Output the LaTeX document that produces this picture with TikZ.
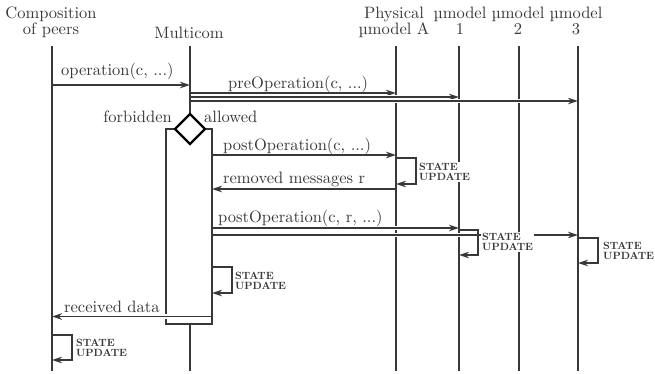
\documentclass[tikz,border=0pt]{standalone}
\usepackage{fontspec}
\setmainfont{lmroman10-regular.otf}[BoldFont=lmroman10-bold.otf]
\usetikzlibrary{arrows.meta}
\definecolor{ln}{HTML}{383838}
\begin{document}
\begin{tikzpicture}[x=1pt,y=-1pt,
  lbl/.style={text=ln, font=\fontsize{16.5}{16}\selectfont, inner sep=0pt},
  hdr/.style={lbl, align=center, anchor=north},
  su/.style={text=ln, font=\fontsize{10.5}{10}\selectfont\bfseries, align=left, inner sep=1pt, anchor=west, fill=white},
  life/.style={draw=ln, line width=1.4pt},
  tip/.style={-{Stealth[length=10pt,width=6.5pt,inset=3pt]}},
  msg/.style={draw=ln, line width=1.4pt, tip, preaction={draw=white, line width=4.6pt, -, shorten <=1.5pt, shorten >=1.5pt}},
  selfloop/.style={draw=ln, line width=1.4pt, tip},
  actbox/.style={draw=ln, line width=1.4pt, fill=white},
  choice/.style={draw=black, line width=2.4pt, fill=white, line join=miter}
]
\useasboundingbox (0,0) rectangle (655,374);

% headers
\node[hdr] (hC) at (51,6.5) {Composition\\of peers};
\node[lbl, anchor=base] (hM) at (189,38.5) {Multicom};
\node[hdr] (hP) at (394,6.5) {Physical\\µmodel A};
\node[hdr] (h1) at (460,6.5) {µmodel\\1};
\node[hdr] (h2) at (518,6.5) {µmodel\\2};
\node[hdr] (h3) at (576,6.5) {µmodel\\3};

% lifeline ends
\coordinate (Ct) at (52,46);  \coordinate (Cb) at (52,371);
\coordinate (Mt) at (190,46); \coordinate (Mb) at (190,371);
\coordinate (Pt) at (396,46); \coordinate (Pb) at (396,371);
\coordinate (At) at (459,46); \coordinate (Ab) at (459,371);
\coordinate (Bt) at (519,46); \coordinate (Bb) at (519,371);
\coordinate (Dt) at (578,46); \coordinate (Db) at (578,371);

\draw[life] (Ct) -- (Cb);
\draw[life] (Mt) -- (Mb);
\draw[life] (Pt) -- (Pb);
\draw[life] (At) -- (Ab);
\draw[life] (Bt) -- (Bb);
\draw[life] (Dt) -- (Db);

% activation box with choice diamond
\coordinate (bx1) at (175,129); \coordinate (bx2) at (166,129);
\coordinate (bx3) at (166,324); \coordinate (bx4) at (212,324);
\coordinate (bx5) at (212,129); \coordinate (bx6) at (205,129);
\filldraw[actbox] (bx1) -- (bx2) -- (bx3) -- (bx4) -- (bx5) -- (bx6);
\coordinate (dT) at (190,114); \coordinate (dR) at (205,129);
\coordinate (dB) at (190,144); \coordinate (dL) at (175,129);
\filldraw[choice] (dT) -- (dR) -- (dB) -- (dL) -- cycle;
\node[lbl, anchor=base east] (forb) at (172,123) {forbidden};
\node[lbl, anchor=base west] (allw) at (204,123) {allowed};

% operation
\coordinate (opS) at (52,85); \coordinate (opE) at (190,85);
\draw[msg] (opS) -- (opE);
\node[lbl, anchor=base west] (opL) at (61,76) {operation(c, ...)};

% preOperation
\coordinate (p1S) at (190,93);  \coordinate (p1E) at (396,93);
\coordinate (p2S) at (190,97);  \coordinate (p2E) at (459,97);
\coordinate (p3S) at (190,101); \coordinate (p3E) at (578,101);
\draw[msg] (p1S) -- (p1E);
\draw[msg] (p2S) -- (p2E);
\draw[msg] (p3S) -- (p3E);
\node[lbl, anchor=base west] (preL) at (228,89) {preOperation(c, ...)};

% postOperation to physical
\coordinate (q1S) at (212,155); \coordinate (q1E) at (396,155);
\draw[msg] (q1S) -- (q1E);
\node[lbl, anchor=base west] (q1L) at (223,150) {postOperation(c, ...)};

% state update physical
\coordinate (lPs) at (396,158); \coordinate (lPc) at (416,184); \coordinate (lPe) at (396,184);
\draw[selfloop] (lPs) -| (lPc) -- (lPe);

% removed messages
\coordinate (rmS) at (396,189); \coordinate (rmE) at (212,189);
\draw[msg] (rmS) -- (rmE);
\node[lbl, anchor=base west] (rmL) at (223,183) {removed messages r};

% postOperation(c, r, ...)
\coordinate (q2S) at (212,228); \coordinate (q2E) at (459,228);
\coordinate (q3S) at (212,235); \coordinate (q3E) at (578,235);
\draw[msg] (q2S) -- (q2E);
\draw[msg] (q3S) -- (q3E);
\node[lbl, anchor=base west] (q2L) at (218,222) {postOperation(c, r, ...)};

% state update µmodel 1
\coordinate (l1s) at (459,230); \coordinate (l1c) at (478,255); \coordinate (l1e) at (459,255);
\draw[selfloop] (l1s) -| (l1c) -- (l1e);

% state update µmodel 3
\coordinate (l3s) at (578,238); \coordinate (l3c) at (598,263); \coordinate (l3e) at (578,263);
\draw[selfloop] (l3s) -| (l3c) -- (l3e);

% state update Multicom
\coordinate (lMs) at (212,267); \coordinate (lMc) at (232,293); \coordinate (lMe) at (212,293);
\draw[selfloop] (lMs) -| (lMc) -- (lMe);

% received data
\coordinate (rdS) at (212,316.5); \coordinate (rdE) at (52,316.5);
\draw[msg] (rdS) -- (rdE);
\node[lbl, anchor=base west] (rdL) at (64,312) {received data};

% state update composition
\coordinate (lCs) at (52,335); \coordinate (lCc) at (72,360); \coordinate (lCe) at (52,360);
\draw[selfloop] (lCs) -| (lCc) -- (lCe);

% STATE UPDATE labels
\node[su] (suP) at (418,172) {STATE\\UPDATE};
\node[su] (su1) at (481,242) {STATE\\UPDATE};
\node[su] (su3) at (602,250.5) {STATE\\UPDATE};
\node[su] (suM) at (234,281) {STATE\\UPDATE};
\node[su] (suC) at (75,347.5) {STATE\\UPDATE};
\end{tikzpicture}
\end{document}
